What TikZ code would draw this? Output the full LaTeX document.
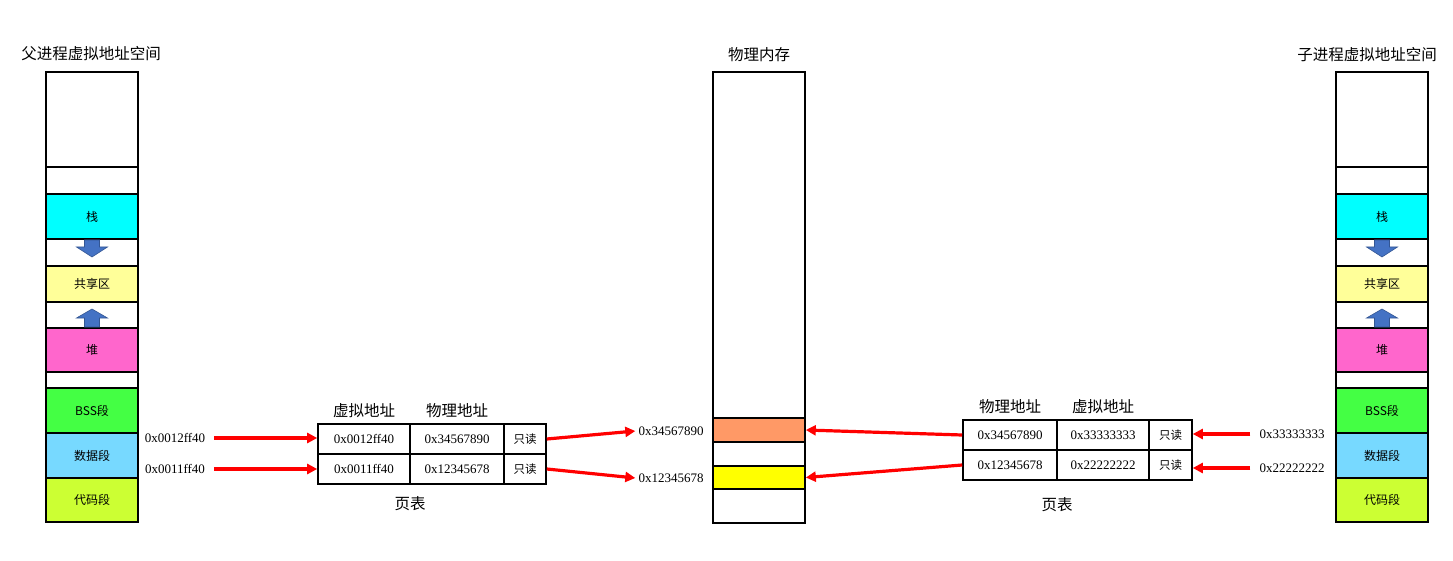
\documentclass[tikz,border=0pt]{standalone}
\usepackage{fontspec}
\setmainfont{Liberation Serif}
\newfontfamily\cjk{Noto Sans CJK SC}
\usetikzlibrary{arrows.meta}
\definecolor{cstack}{HTML}{00FFFF}
\definecolor{cshare}{HTML}{FFFF99}
\definecolor{cheap}{HTML}{FF66CC}
\definecolor{cbss}{HTML}{44FF44}
\definecolor{cdata}{HTML}{77D9FF}
\definecolor{ccode}{HTML}{CCFF33}
\definecolor{corange}{HTML}{FF9966}
\definecolor{cyel}{HTML}{FFFF00}
\definecolor{cblock}{HTML}{4472C4}
\newcommand\vcol[2]{%
  \node[seg,minimum height=95pt] (#1top) at (#2,119.5) {};
  \node[seg,minimum height=27pt] (#1ga) at (#2,180.5) {};
  \node[seg,minimum height=45pt,fill=cstack] (#1stack) at (#2,216.5) {栈};
  \node[seg,minimum height=27pt] (#1gb) at (#2,252.5) {};
  \node[seg,minimum height=36pt,fill=cshare] (#1share) at (#2,284) {共享区};
  \node[seg,minimum height=26pt] (#1gc) at (#2,315) {};
  \node[seg,minimum height=44pt,fill=cheap] (#1heap) at (#2,350) {堆};
  \node[seg,minimum height=16pt] (#1gd) at (#2,380) {};
  \node[seg,minimum height=45pt,fill=cbss] (#1bss) at (#2,410.5) {BSS段};
  \node[seg,minimum height=45pt,fill=cdata] (#1data) at (#2,455.5) {数据段};
  \node[seg,minimum height=44pt,fill=ccode] (#1code) at (#2,500) {代码段};
  \filldraw[blockfill] (#2-7.5,240) -- (#2+7.5,240) -- (#2+7.5,247) -- (#2+15.5,247)
     -- (#2,257) -- (#2-15.5,247) -- (#2-7.5,247) -- cycle;
  \filldraw[blockfill] (#2-7.5,327) -- (#2+7.5,327) -- (#2+7.5,318) -- (#2+15.5,318)
     -- (#2,309) -- (#2-15.5,318) -- (#2-7.5,318) -- cycle;
}
\begin{document}
\begin{tikzpicture}[x=1pt,y=-1pt,
  seg/.style={draw=black,line width=1.6pt,minimum width=92pt,inner sep=0pt,fill=white,
    font=\cjk\fontsize{12}{12}\selectfont},
  blockfill/.style={fill=cblock,draw=cblock!75!black,line width=0.6pt},
  cell/.style={draw=black,line width=1.6pt,inner sep=0pt,minimum height=30pt,
    font=\fontsize{13}{13}\selectfont},
  rocell/.style={cell,font=\cjk\fontsize{11.5}{12}\selectfont},
  hex/.style={inner sep=3pt,font=\fontsize{13}{13}\selectfont},
  head/.style={inner sep=1pt,font=\cjk\fontsize{15.5}{16}\selectfont},
  redarr/.style={draw=red,line width=3.2pt,-{Triangle[length=10pt,width=10pt]}}
]
\useasboundingbox (0,0) rectangle (1453,561);

% titles
\node[head] (tl) at (91,54) {父进程虚拟地址空间};
\node[head] (tm) at (759,55) {物理内存};
\node[head] (tr) at (1367,55) {子进程虚拟地址空间};

% columns
\vcol{L}{92}
\vcol{R}{1382}

% physical memory
\node[seg,minimum height=346pt] (ptop) at (759,245) {};
\node[seg,minimum height=24pt,fill=corange] (porange) at (759,430) {};
\node[seg,minimum height=24pt] (pgap) at (759,454) {};
\node[seg,minimum height=23pt,fill=cyel] (pyel) at (759,477.5) {};
\node[seg,minimum height=34pt] (pbot) at (759,506) {};

% left page table
\node[head] (lh1) at (364,411) {虚拟地址};
\node[head] (lh2) at (457,411) {物理地址};
\node[cell,minimum width=92pt] (l11) at (364,439) {0x0012ff40};
\node[cell,minimum width=94pt] (l12) at (457,439) {0x34567890};
\node[rocell,minimum width=42pt] (l13) at (525,439) {只读};
\node[cell,minimum width=92pt] (l21) at (364,469) {0x0011ff40};
\node[cell,minimum width=94pt] (l22) at (457,469) {0x12345678};
\node[rocell,minimum width=42pt] (l23) at (525,469) {只读};
\node[head] (lpt) at (410,504) {页表};

% right page table
\node[head] (rh1) at (1010,407) {物理地址};
\node[head] (rh2) at (1103,407) {虚拟地址};
\node[cell,minimum width=94pt] (r11) at (1010,435) {0x34567890};
\node[cell,minimum width=92pt] (r12) at (1103,435) {0x33333333};
\node[rocell,minimum width=43pt] (r13) at (1170.5,435) {只读};
\node[cell,minimum width=94pt] (r21) at (1010,465) {0x12345678};
\node[cell,minimum width=92pt] (r22) at (1103,465) {0x22222222};
\node[rocell,minimum width=43pt] (r23) at (1170.5,465) {只读};
\node[head] (rpt) at (1057,505) {页表};

% address labels
\node[hex] (la1) at (175,438) {0x0012ff40};
\node[hex] (la2) at (175,469) {0x0011ff40};
\node[hex] (pa1) at (671,431) {0x34567890};
\node[hex] (pa2) at (671,478) {0x12345678};
\node[hex] (ra1) at (1292,434) {0x33333333};
\node[hex] (ra2) at (1292,468) {0x22222222};

% connectors
\draw[redarr,shorten <=6pt] (la1.east) -- (l11.west |- la1.east);
\draw[redarr,shorten <=6pt] (la2.east) -- (l21.west |- la2.east);
\draw[redarr] (l13.east) -- (pa1.west);
\draw[redarr] (l23.east) -- (pa2.west);
\draw[redarr] (r11.west) -- (porange.east);
\draw[redarr] (r21.west) -- (pyel.east);
\draw[redarr,shorten <=6pt] (ra1.west) -- (r13.east |- ra1.west);
\draw[redarr,shorten <=6pt] (ra2.west) -- (r23.east |- ra2.west);
\end{tikzpicture}
\end{document}
